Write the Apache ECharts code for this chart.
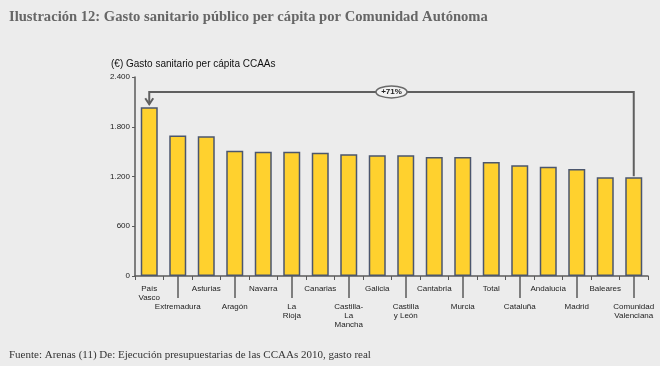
<!DOCTYPE html>
<html>
<head>
<meta charset="utf-8">
<script src="https://cdn.jsdelivr.net/npm/echarts@6/dist/echarts.min.js"></script>
<style>
html,body{margin:0;padding:0;background:#ececec;}
#c{width:660px;height:366px;}
</style>
</head>
<body>
<div id="c"></div>
<script>
const titleText = 'Ilustración 12: Gasto sanitario público per cápita por Comunidad Autónoma';
const axisTitle = '(€) Gasto sanitario per cápita CCAAs';
const sourceText = 'Fuente: Arenas (11) De: Ejecución presupuestarias de las CCAAs 2010, gasto real';

const categories = ['País\nVasco','Extremadura','Asturias','Aragón','Navarra','La\nRioja','Canarias','Castilla-\nLa\nMancha','Galicia','Castilla\ny León','Cantabria','Murcia','Total','Cataluña','Andalucía','Madrid','Baleares','Comunidad\nValenciana'];
const values = [2036,1693,1685,1511,1499,1499,1487,1467,1455,1457,1434,1434,1374,1337,1317,1289,1192,1192];

const yMin = 0, yMax = 2400, yStep = 600;
const bracketLevel = 2220;
const bracketLabel = '+71%';
const bracketFrom = 0, bracketTo = 17;

const chart = echarts.init(document.getElementById('c'), null, {renderer:'canvas'});
const axisColor = '#5a5a5a';

chart.setOption({
  backgroundColor: '#ececec',
  animation: false,
  title: [
    {text: titleText, left: 4, top: 5,
     textStyle: {fontFamily: 'Liberation Serif', fontWeight: 'bold', fontSize: 14.6, color: '#666666'}},
    {text: axisTitle, left: 106, top: 54,
     textStyle: {fontFamily: 'Liberation Sans', fontWeight: 'normal', fontSize: 10, color: '#111111'}},
    {text: sourceText, left: 4, top: 345,
     textStyle: {fontFamily: 'Liberation Serif', fontWeight: 'normal', fontSize: 11, color: '#333333'}}
  ],
  grid: {left: 135, right: 12, top: 77, bottom: 90, containLabel: false},
  xAxis: [
    {type: 'category', data: categories, position: 'bottom',
     axisLine: {show: true, lineStyle: {color: axisColor, width: 1.5}},
     axisTick: {show: true, length: 4, alignWithLabel: false, interval: 0, lineStyle: {color: axisColor, width: 1}},
     axisLabel: {interval: 0, fontSize: 8, lineHeight: 9, color: '#222', fontFamily: 'Liberation Sans', margin: 8,
       formatter: function (v, i) { return (i % 2 === 1) ? '\n\n' + v : v; }},
     splitLine: {show: false}},
    {type: 'category', data: categories, position: 'bottom', offset: 0,
     axisLine: {show: false},
     axisTick: {show: true, length: 22, alignWithLabel: true,
       interval: function (i) { return i % 2 === 1; },
       lineStyle: {color: axisColor, width: 1.5}},
     axisLabel: {show: false},
     splitLine: {show: false}}
  ],
  yAxis: {
    type: 'value', min: yMin, max: yMax, interval: yStep,
    axisLine: {show: true, lineStyle: {color: axisColor, width: 1.5}},
    axisTick: {show: true, length: 3, lineStyle: {color: axisColor}},
    splitLine: {show: false},
    axisLabel: {fontSize: 8, color: '#222', margin: 5, fontFamily: 'Liberation Sans',
      formatter: function (v) { return String(v).replace(/\B(?=(\d{3})+(?!\d))/g, '.'); }}
  },
  series: [{
    type: 'bar', xAxisIndex: 0, data: values, barWidth: 17,
    itemStyle: {color: '#FFD12E', borderColor: '#4b566e', borderWidth: 1.5}
  }]
});

function drawBracket() {
  const pA = chart.convertToPixel({xAxisIndex: 0, yAxisIndex: 0}, [bracketFrom, values[bracketFrom]]);
  const pB = chart.convertToPixel({xAxisIndex: 0, yAxisIndex: 0}, [bracketTo, values[bracketTo]]);
  const yL = chart.convertToPixel({yAxisIndex: 0}, bracketLevel);
  const midX = (pA[0] + pB[0]) / 2;
  const ls = {stroke: '#5f5f5f', lineWidth: 2, fill: null};
  chart.setOption({
    graphic: [
      {type: 'polyline', shape: {points: [[pA[0], pA[1] - 3], [pA[0], yL], [pB[0], yL], [pB[0], pB[1] - 1]]}, style: ls, z: 100},
      {type: 'polyline', shape: {points: [[pA[0] - 4, pA[1] - 9], [pA[0], pA[1] - 3], [pA[0] + 4, pA[1] - 9]]}, style: ls, z: 100},
      {type: 'ellipse', shape: {cx: midX, cy: yL, rx: 15.5, ry: 6}, style: {fill: '#f2f2f2', stroke: '#6a6a6a', lineWidth: 1.5}, z: 101},
      {type: 'text', x: midX, y: yL, style: {text: bracketLabel, fontSize: 8, fontWeight: 'bold', fontFamily: 'Liberation Sans', fill: '#222', align: 'center', verticalAlign: 'middle'}, z: 102}
    ]
  });
}
drawBracket();
</script>
</body>
</html>
